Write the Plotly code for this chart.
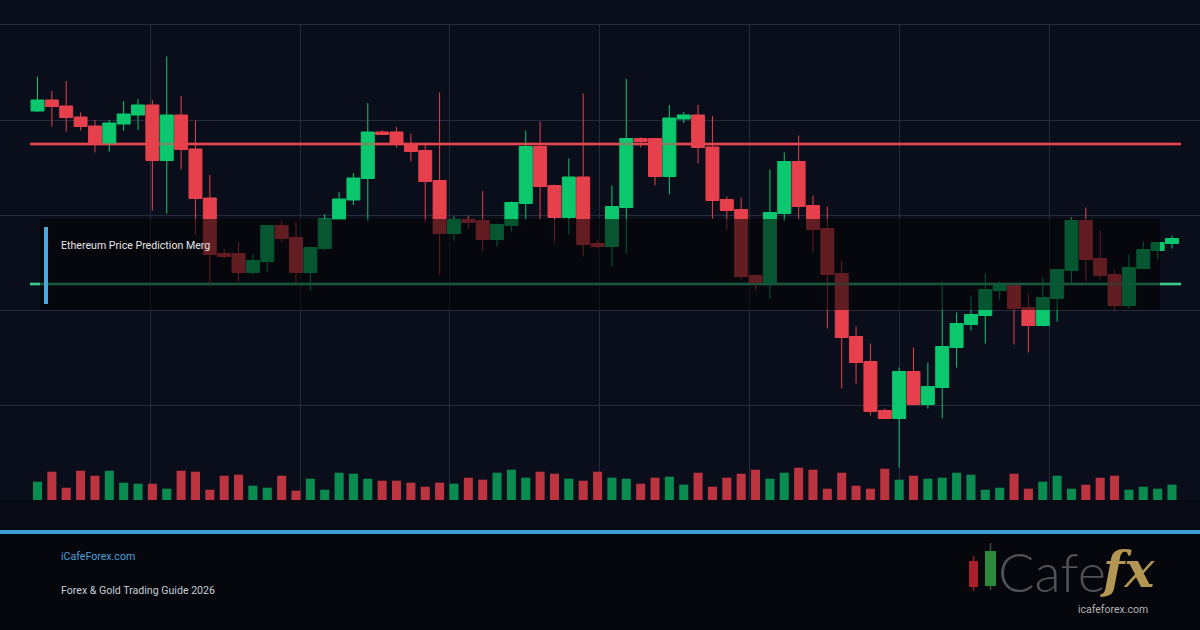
import plotly.graph_objects as go

# ---------------- data ----------------
idx = list(range(80))
opens = [1778,1800,1788,1766,1748,1713,1752,1770,1790,1679,
         1770,1702,1604,1493,1493,1455,1477,1549,1525,1455,
         1503,1561,1600,1643,1736,1736,1713,1699,1639,1533,
         1561,1559,1521,1549,1593,1707,1629,1565,1646,1513,
         1507,1585,1723,1723,1647,1762,1770,1706,1601,1581,
         1449,1435,1573,1677,1589,1543,1453,1327,1277,1179,
         1163,1257,1191,1225,1305,1351,1369,1419,1429,1385,
         1349,1403,1459,1559,1483,1451,1389,1463,1499,1513]
highs = [1847,1818,1838,1775,1760,1760,1798,1802,1800,1887,
         1808,1759,1650,1502,1516,1492,1549,1559,1557,1507,
         1572,1616,1654,1794,1740,1746,1733,1711,1815,1567,
         1569,1618,1553,1597,1739,1757,1631,1683,1813,1519,
         1629,1842,1725,1723,1790,1776,1790,1768,1607,1605,
         1451,1661,1695,1729,1609,1587,1479,1347,1313,1183,
         1265,1305,1275,1437,1375,1409,1453,1437,1431,1413,
         1445,1461,1565,1585,1539,1459,1491,1517,1515,1529]
lows = [1776,1747,1737,1739,1695,1697,1738,1740,1579,1573,
        1661,1531,1429,1483,1437,1451,1457,1515,1435,1419,
        1499,1559,1590,1557,1731,1705,1677,1555,1451,1519,
        1543,1497,1507,1537,1561,1561,1515,1531,1487,1503,
        1467,1493,1705,1629,1611,1754,1673,1563,1541,1441,
        1419,1403,1557,1561,1495,1343,1223,1233,1169,1163,
        1065,1189,1183,1163,1265,1339,1313,1401,1311,1295,
        1347,1357,1435,1437,1441,1379,1383,1461,1481,1503]
closes = [1800,1787,1765,1747,1713,1754,1772,1790,1679,1770,
          1701,1603,1491,1487,1455,1479,1549,1523,1455,1505,
          1562,1602,1644,1736,1731,1713,1697,1637,1533,1561,
          1555,1521,1551,1595,1707,1627,1565,1646,1511,1507,
          1587,1723,1717,1647,1764,1770,1705,1599,1579,1447,
          1435,1575,1677,1587,1541,1451,1325,1275,1177,1163,
          1257,1191,1227,1307,1353,1371,1421,1429,1383,1349,
          1405,1461,1559,1481,1449,1389,1465,1501,1515,1523]
volumes = [183,283,123,293,243,293,173,163,163,113,
           293,283,103,243,253,143,123,243,93,213,
           103,273,263,213,193,193,173,133,173,163,
           223,203,273,303,223,283,263,213,193,283,
           223,213,163,223,233,153,273,133,223,263,
           303,213,273,323,303,113,273,143,113,313,
           203,243,213,223,273,253,103,123,263,113,
           183,243,113,153,223,243,103,133,113,153]
resistance = 1712
support = 1432
title_text = "Ethereum Price Prediction Merg"
site_text = "iCafeForex.com"
guide_text = "Forex & Gold Trading Guide 2026"

# ---------------- styles ----------------
W, H = 1200, 630
PLOT_TOP, PLOT_BOT = 25, 500
BG = "#0a0e1a"
GRID = "#262c3e"
UP = "#0bc86f"
DOWN = "#e6404d"
VOL_UP = "#0a8c50"
VOL_DOWN = "#bb343f"
SMALL_FONT = "Roboto, Liberation Sans, Arial, sans-serif"


def xp(px):
    return px / W


def yp(py):
    return (PLOT_BOT - py) / (PLOT_BOT - PLOT_TOP)


fig = go.Figure()

vol_colors = [VOL_UP if c >= o else VOL_DOWN for o, c in zip(opens, closes)]
fig.add_trace(go.Bar(x=idx, y=volumes, marker=dict(color=vol_colors, line=dict(width=0)),
                     width=0.63, yaxis="y2", hoverinfo="skip"))

fig.add_trace(go.Candlestick(
    x=idx, open=opens, high=highs, low=lows, close=closes,
    increasing=dict(line=dict(color=UP, width=1), fillcolor=UP),
    decreasing=dict(line=dict(color=DOWN, width=1), fillcolor=DOWN),
    whiskerwidth=0, hoverinfo="skip"))

shapes = []
line_x0, line_x1 = -0.52, 79.63
for level, col in [(resistance, "#e8464f"), (support, "#3cc98a")]:
    shapes.append(dict(type="line", xref="x", yref="y", x0=line_x0, x1=line_x1, y0=level, y1=level,
                       line=dict(color=col, width=2.5), layer="between"))
    shapes.append(dict(type="line", xref="x", yref="y", x0=line_x0, x1=line_x1, y0=level, y1=level,
                       line=dict(color=col, width=2.5), opacity=0.45, layer="above"))
# dark info box
shapes.append(dict(type="rect", xref="paper", yref="paper", x0=xp(40), x1=xp(1160), y0=yp(310), y1=yp(219),
                   fillcolor="rgba(2,3,6,0.58)", line=dict(width=0), layer="above"))
shapes.append(dict(type="rect", xref="paper", yref="paper", x0=xp(44), x1=xp(48), y0=yp(304), y1=yp(227),
                   fillcolor="#4aa6de", line=dict(width=0), layer="above"))
# footer
shapes.append(dict(type="rect", xref="paper", yref="paper", x0=0, x1=1, y0=yp(530), y1=yp(500),
                   fillcolor="#080b14", line=dict(width=0), layer="above"))
shapes.append(dict(type="rect", xref="paper", yref="paper", x0=0, x1=1, y0=yp(630), y1=yp(534),
                   fillcolor="#05070d", line=dict(width=0), layer="above"))
shapes.append(dict(type="rect", xref="paper", yref="paper", x0=0, x1=1, y0=yp(534), y1=yp(530),
                   fillcolor="#3d9bd6", line=dict(width=0), layer="above"))
# logo candle icons
shapes.append(dict(type="line", xref="paper", yref="paper", x0=xp(973.5), x1=xp(973.5), y0=yp(591), y1=yp(556),
                   line=dict(color="#9a1e26", width=1.5), layer="above"))
shapes.append(dict(type="rect", xref="paper", yref="paper", x0=xp(969), x1=xp(978), y0=yp(587), y1=yp(561),
                   fillcolor="#a8202a", line=dict(width=0), layer="above"))
shapes.append(dict(type="line", xref="paper", yref="paper", x0=xp(990.5), x1=xp(990.5), y0=yp(590), y1=yp(543),
                   line=dict(color="#3a4a40", width=1.5), layer="above"))
shapes.append(dict(type="rect", xref="paper", yref="paper", x0=xp(985), x1=xp(996), y0=yp(586), y1=yp(551),
                   fillcolor="#2c8a3c", line=dict(width=0), layer="above"))

annotations = [
    dict(text=title_text, xref="paper", yref="paper", x=xp(59), y=yp(245), xanchor="left", yanchor="middle",
         showarrow=False, font=dict(family=SMALL_FONT, size=10.6, color="#e6e6e6")),
    dict(text=site_text, xref="paper", yref="paper", x=xp(59), y=yp(556), xanchor="left", yanchor="middle",
         showarrow=False, font=dict(family=SMALL_FONT, size=10.6, color="#4aa0d8")),
    dict(text=guide_text, xref="paper", yref="paper", x=xp(59), y=yp(590), xanchor="left", yanchor="middle",
         showarrow=False, font=dict(family=SMALL_FONT, size=10.6, color="#c8ccd4")),
    dict(text="Cafe", xref="paper", yref="paper", x=xp(997), y=yp(571), xanchor="left", yanchor="middle",
         showarrow=False, borderpad=0,
         font=dict(family="Lato, Open Sans, sans-serif", size=54, color="#4f5257", weight=300)),
    dict(text="<b><i>fx</i></b>", xref="paper", yref="paper", x=xp(1099), y=yp(569), xanchor="left",
         yanchor="middle", showarrow=False, borderpad=0,
         font=dict(family="DejaVu Serif, serif", size=50, color="#b39653")),
    dict(text="icafeforex.com", xref="paper", yref="paper", x=xp(1113), y=yp(609), xanchor="center",
         yanchor="middle", showarrow=False, borderpad=0,
         font=dict(family=SMALL_FONT, size=10.5, color="#b4b4b4")),
]

fig.update_layout(
    width=W, height=H,
    margin=dict(l=0, r=0, t=PLOT_TOP, b=H - PLOT_BOT, pad=0),
    paper_bgcolor=BG, plot_bgcolor=BG,
    showlegend=False, hovermode=False,
    boxgap=0.05, boxgroupgap=0.05,
    xaxis=dict(range=[-2.611, 80.95], showticklabels=False, ticks="", showgrid=True, gridcolor=GRID,
               gridwidth=1, tick0=7.834, dtick=10.445, zeroline=False, rangeslider=dict(visible=False),
               showline=True, mirror=True, linecolor=GRID, linewidth=1, fixedrange=True),
    yaxis=dict(range=[1000, 1950], showticklabels=False, ticks="", showgrid=True, gridcolor=GRID,
               gridwidth=1, tick0=1000, dtick=190, zeroline=False, showline=False, fixedrange=True),
    yaxis2=dict(range=[0, 4750], overlaying="y", showticklabels=False, showgrid=False, zeroline=False,
                ticks="", fixedrange=True),
    shapes=shapes,
    annotations=annotations,
)

fig.write_html("out.html", config={"displayModeBar": False})
